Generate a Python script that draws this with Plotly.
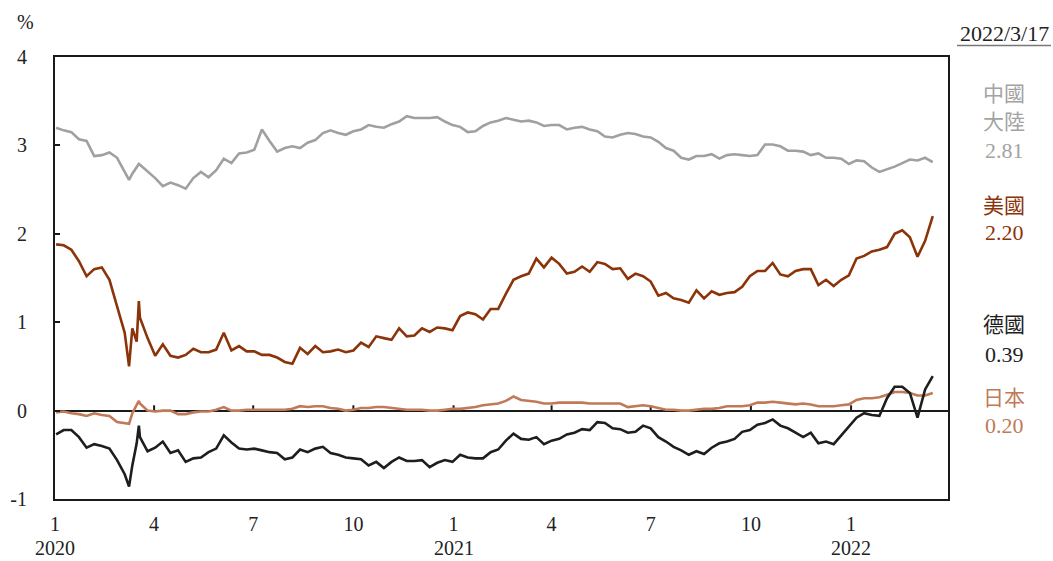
import pandas as pd
import plotly.graph_objects as go

# Weekly observation dates (Thursdays), 2020-01-02 .. 2022-03-17
WEEKS = pd.date_range("2020-01-02", periods=116, freq="7D")

# 10-year government bond yields (%), weekly readings
CHINA = [
    3.20, 3.17, 3.15, 3.07, 3.05, 2.88, 2.89, 2.92, 2.86, 2.70,
    2.68, 2.78, 2.71, 2.63, 2.54, 2.58, 2.55, 2.51, 2.63, 2.70,
    2.64, 2.72, 2.85, 2.80, 2.91, 2.92, 2.95, 3.18, 3.05, 2.93,
    2.97, 2.99, 2.97, 3.03, 3.06, 3.14, 3.17, 3.14, 3.12, 3.16,
    3.18, 3.23, 3.21, 3.20, 3.24, 3.27, 3.33, 3.31, 3.31, 3.31,
    3.32, 3.27, 3.23, 3.21, 3.15, 3.16, 3.22, 3.26, 3.28, 3.31,
    3.29, 3.27, 3.28, 3.26, 3.22, 3.23, 3.23, 3.18, 3.20, 3.21,
    3.18, 3.16, 3.10, 3.09, 3.12, 3.14, 3.13, 3.10, 3.09, 3.04,
    2.97, 2.94, 2.86, 2.84, 2.88, 2.88, 2.90, 2.85, 2.89, 2.90,
    2.89, 2.88, 2.89, 3.01, 3.01, 2.99, 2.94, 2.94, 2.93, 2.89,
    2.91, 2.86, 2.86, 2.85, 2.79, 2.83, 2.82, 2.75, 2.70, 2.73,
    2.76, 2.80, 2.84, 2.83, 2.86, 2.81,
]
USA = [
    1.88, 1.87, 1.82, 1.69, 1.52, 1.60, 1.62, 1.48, 1.18, 0.88,
    0.93, 1.05, 0.82, 0.62, 0.75, 0.62, 0.60, 0.63, 0.70, 0.66,
    0.66, 0.69, 0.88, 0.68, 0.73, 0.67, 0.67, 0.63, 0.63, 0.60,
    0.55, 0.53, 0.71, 0.64, 0.73, 0.66, 0.67, 0.69, 0.66, 0.68,
    0.77, 0.72, 0.84, 0.82, 0.80, 0.93, 0.84, 0.85, 0.93, 0.89,
    0.94, 0.93, 0.91, 1.07, 1.11, 1.09, 1.03, 1.15, 1.15, 1.32,
    1.48, 1.52, 1.55, 1.72, 1.62, 1.73, 1.66, 1.55, 1.57, 1.63,
    1.57, 1.68, 1.66, 1.60, 1.61, 1.49, 1.55, 1.52, 1.46, 1.30,
    1.33, 1.27, 1.25, 1.22, 1.36, 1.27, 1.35, 1.31, 1.33, 1.34,
    1.40, 1.52, 1.58, 1.58, 1.67, 1.54, 1.52, 1.58, 1.60, 1.60,
    1.42, 1.48, 1.41, 1.48, 1.53, 1.72, 1.75, 1.80, 1.82, 1.85,
    2.00, 2.04, 1.96, 1.74, 1.92, 2.20,
]
GERMANY = [
    -0.27, -0.22, -0.22, -0.30, -0.42, -0.38, -0.40, -0.43, -0.56, -0.72,
    -0.62, -0.30, -0.46, -0.42, -0.35, -0.48, -0.45, -0.58, -0.54, -0.53,
    -0.47, -0.43, -0.28, -0.36, -0.43, -0.44, -0.43, -0.45, -0.47, -0.48,
    -0.55, -0.53, -0.44, -0.47, -0.43, -0.41, -0.48, -0.50, -0.53, -0.54,
    -0.55, -0.62, -0.58, -0.65, -0.58, -0.53, -0.57, -0.57, -0.56, -0.64,
    -0.59, -0.56, -0.58, -0.50, -0.53, -0.54, -0.54, -0.47, -0.44, -0.34,
    -0.26, -0.32, -0.33, -0.30, -0.38, -0.34, -0.32, -0.27, -0.25, -0.21,
    -0.22, -0.13, -0.14, -0.20, -0.21, -0.25, -0.24, -0.17, -0.20, -0.30,
    -0.35, -0.41, -0.45, -0.50, -0.46, -0.49, -0.42, -0.37, -0.35, -0.32,
    -0.24, -0.22, -0.16, -0.14, -0.10, -0.17, -0.20, -0.25, -0.30, -0.25,
    -0.37, -0.35, -0.38, -0.28, -0.18, -0.08, -0.03, -0.05, -0.06, 0.14,
    0.27, 0.27, 0.20, -0.08, 0.24, 0.39,
]
JAPAN = [
    -0.02, -0.01, -0.03, -0.04, -0.06, -0.03, -0.05, -0.06, -0.13, -0.14,
    -0.03, 0.08, 0.00, -0.01, 0.00, 0.00, -0.04, -0.04, -0.02, -0.01,
    -0.01, 0.01, 0.04, 0.00, 0.00, 0.01, 0.01, 0.01, 0.01, 0.01,
    0.01, 0.02, 0.05, 0.04, 0.05, 0.05, 0.03, 0.02, 0.00, 0.01,
    0.03, 0.03, 0.04, 0.04, 0.03, 0.02, 0.01, 0.01, 0.01, 0.00,
    0.00, 0.01, 0.02, 0.02, 0.03, 0.04, 0.06, 0.07, 0.08, 0.11,
    0.16, 0.12, 0.11, 0.10, 0.08, 0.08, 0.09, 0.09, 0.09, 0.09,
    0.08, 0.08, 0.08, 0.08, 0.08, 0.04, 0.05, 0.06, 0.05, 0.03,
    0.01, 0.01, 0.00, 0.00, 0.01, 0.02, 0.02, 0.03, 0.05, 0.05,
    0.05, 0.06, 0.09, 0.09, 0.10, 0.09, 0.08, 0.07, 0.08, 0.07,
    0.05, 0.05, 0.05, 0.06, 0.07, 0.12, 0.14, 0.14, 0.15, 0.18,
    0.21, 0.21, 0.20, 0.17, 0.17, 0.20,
]

# Extra daily readings around the March 2020 market turmoil
EXTRA_DATES = ["2020-03-09", "2020-03-16", "2020-03-18"]
CHINA_EXTRA = [2.61, 2.76, 2.79]
USA_EXTRA = [0.50, 0.78, 1.24]
GERMANY_EXTRA = [-0.86, -0.37, -0.17]
JAPAN_EXTRA = [-0.15, 0.06, 0.11]

# End-of-period labels
AS_OF = "2022/3/17"
LABELS = [
    (["中國", "大陸", "2.81"], "#a3a3a3"),
    (["美國", "2.20"], "#8c3409"),
    (["德國", "0.39"], "#1e1e1e"),
    (["日本", "0.20"], "#c07a58"),
]

# Month ticks on the horizontal axis, years written under January
TICK_DATES = ["2020-01-01", "2020-04-01", "2020-07-01", "2020-10-01",
              "2021-01-01", "2021-04-01", "2021-07-01", "2021-10-01",
              "2022-01-01"]
TICK_TEXT = ["1", "4", "7", "10", "1", "4", "7", "10", "1"]
YEAR_DATES = ["2020-01-01", "2021-01-01", "2022-01-01"]
YEAR_TEXT = ["2020", "2021", "2022"]
Y_TICKS = [-1, 0, 1, 2, 3, 4]
Y_TICK_TEXT = ["-1", "0", "1", "2", "3", "4"]


def merged(weekly, extra):
    s = pd.Series(list(weekly) + list(extra),
                  index=list(WEEKS) + list(pd.to_datetime(EXTRA_DATES)))
    return s.sort_index()


SERIES = [
    (merged(CHINA, CHINA_EXTRA), "#a0a0a0", 2.6),
    (merged(USA, USA_EXTRA), "#8c3409", 2.6),
    (merged(JAPAN, JAPAN_EXTRA), "#c07a58", 2.6),
    (merged(GERMANY, GERMANY_EXTRA), "#1e1e1e", 2.6),
]

W, H = 1053, 561
L, R, T, B = 55, 105, 57, 62
PW, PH = W - L - R, H - T - B

SERIF = "Liberation Serif, Noto Sans CJK TC, serif"

fig = go.Figure()
for s, color, width in SERIES:
    fig.add_trace(go.Scatter(x=s.index, y=s.values, mode="lines",
                             line=dict(color=color, width=width),
                             hoverinfo="skip", showlegend=False))


def px_x(x):
    return (x - L) / PW


def px_y(y):
    return (H - B - y) / PH


annotations = [
    dict(text="%", x=px_x(25), y=px_y(22), xref="paper", yref="paper",
         showarrow=False, font=dict(size=20, color="#222", family=SERIF),
         xanchor="center", yanchor="middle"),
    dict(text=AS_OF, x=px_x(1004), y=px_y(34), xref="paper", yref="paper",
         showarrow=False, font=dict(size=22, color="#222", family=SERIF),
         xanchor="center", yanchor="middle"),
]
for d, txt in zip(YEAR_DATES, YEAR_TEXT):
    annotations.append(dict(text=txt, x=d, y=px_y(548), xref="x", yref="paper",
                            showarrow=False, borderpad=0,
                            font=dict(size=20, color="#222", family=SERIF),
                            xanchor="center", yanchor="middle"))

label_rows = [[94, 122, 150], [206, 232], [325, 354], [398, 425]]
for (lines, color), rows in zip(LABELS, label_rows):
    for txt, yy in zip(lines, rows):
        annotations.append(dict(text=txt, x=px_x(1004), y=px_y(yy),
                                xref="paper", yref="paper", showarrow=False,
                                font=dict(size=21 if not txt[0].isdigit() else 22,
                                          color=color, family=SERIF),
                                xanchor="center", yanchor="middle"))

shapes = [
    dict(type="line", xref="paper", yref="paper",
         x0=px_x(957), x1=px_x(1051), y0=px_y(45.5), y1=px_y(45.5),
         line=dict(color="#777", width=1.5)),
]
# small upward tick marks along the zero line
for d in TICK_DATES[1:]:
    shapes.append(dict(type="line", xref="x", yref="y", x0=d, x1=d,
                       y0=0, y1=0.06, layer="below",
                       line=dict(color="#1a1a1a", width=2)))

fig.update_layout(
    width=W, height=H,
    margin=dict(l=L, r=R, t=T, b=B, autoexpand=False),
    paper_bgcolor="white", plot_bgcolor="white",
    annotations=annotations, shapes=shapes,
    font=dict(family=SERIF, color="#222"),
)
fig.update_xaxes(
    type="date", range=["2020-01-01", "2022-03-31"],
    tickvals=TICK_DATES, ticktext=TICK_TEXT, ticks="",
    showgrid=False, zeroline=False, automargin=False,
    showline=True, mirror=True, linecolor="#1a1a1a", linewidth=2,
    tickfont=dict(size=20, family=SERIF, color="#222"),
    ticklabelstandoff=6,
)
fig.update_yaxes(
    range=[-1, 4], tickvals=Y_TICKS, ticktext=Y_TICK_TEXT, automargin=False,
    ticks="inside", ticklen=5, tickwidth=2, tickcolor="#1a1a1a",
    showgrid=False, zeroline=True, zerolinecolor="#1a1a1a", zerolinewidth=2,
    showline=True, mirror=True, linecolor="#1a1a1a", linewidth=2,
    tickfont=dict(size=20, family=SERIF, color="#222"),
    ticklabelstandoff=22,
)

fig.write_html("out.html")
